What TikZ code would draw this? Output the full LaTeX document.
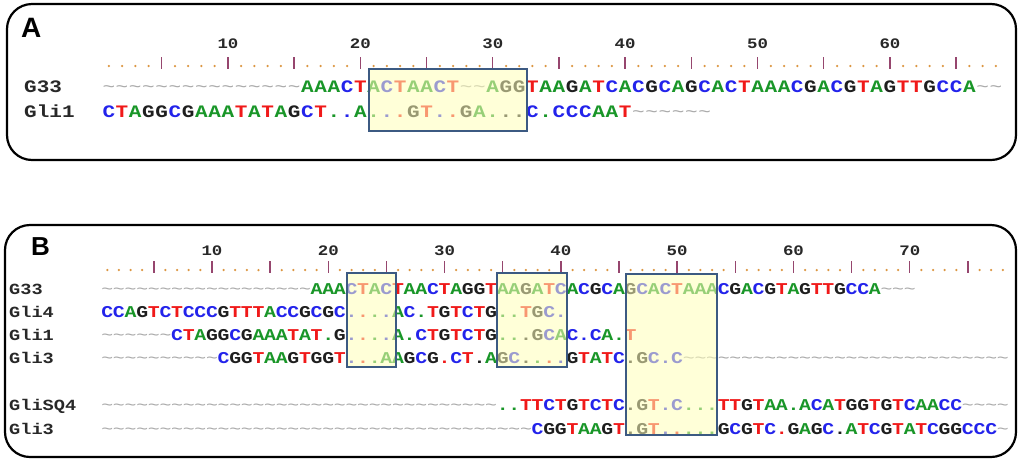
\documentclass[tikz,border=0pt]{standalone}
\usepackage{fontspec}
\newfontfamily\seqf{Liberation Mono}[FakeStretch=1.2]
\newfontfamily\panf{Liberation Sans}
\definecolor{bA}{RGB}{25,150,40}
\definecolor{bC}{RGB}{35,35,235}
\definecolor{bG}{RGB}{30,30,30}
\definecolor{bT}{RGB}{240,25,25}
\definecolor{bgap}{RGB}{170,170,170}
\definecolor{rdot}{RGB}{220,150,65}
\definecolor{rtick}{RGB}{150,70,110}
\definecolor{labcol}{RGB}{40,40,40}
\definecolor{boxline}{RGB}{60,90,130}
\definecolor{boxfill}{RGB}{255,255,185}
\tikzset{
  frame/.style={draw=black, line width=2.2pt, rounded corners=25pt},
  hibox/.style={draw=boxline, line width=1.8pt, fill=boxfill, fill opacity=0.55},
  chA/.style={inner sep=0pt, anchor=base, font=\fontsize{17.5}{17.5}\seqf\bfseries},
  chB/.style={inner sep=0pt, anchor=base, font=\fontsize{16.5}{16.5}\seqf\bfseries},
  labA/.style={inner sep=0pt, anchor=base west, text=labcol, font=\fontsize{17.5}{17.5}\seqf\bfseries},
  labB/.style={inner sep=0pt, anchor=base west, text=labcol, font=\fontsize{15.5}{15.5}\seqf\bfseries},
  num/.style={inner sep=0pt, anchor=base, text=labcol, font=\fontsize{14.5}{14.5}\seqf\bfseries},
  panel/.style={inner sep=0pt, anchor=base west, font=\fontsize{28}{28}\panf\bfseries},
  tickln/.style={draw=rtick, line width=1.4pt},
}
\newcommand\PutCh[6]{\node[#5,text=#4] (#1) at (#2,#3) {#6};}
\newcommand\GapCh{{\mdseries\textasciitilde}}
\newcommand\RulerTick[2]{\draw[tickln] (#1,#2-9) -- (#1,#2+3);}
\newcommand\RulerDot[2]{\fill[rdot] (#1,#2) circle[radius=1.25];}
\newcommand\RulerNum[4]{\node[num] (#1) at (#2,#3) {#4};}
\ExplSyntaxOn
\str_new:N \l_my_row_str
\str_new:N \l_my_ref_str
\tl_new:N \l_my_ch_tl
\tl_new:N \l_my_rc_tl
\tl_new:N \l_my_col_tl
\tl_new:N \l_my_gl_tl
\tl_new:N \l_my_x_tl
\cs_new:Npn \my_colname:n #1
  { \str_case:nnF {#1} { {A}{bA} {C}{bC} {G}{bG} {T}{bT} } {bgap} }
\cs_generate_variant:Nn \my_colname:n { V }
\NewDocumentCommand \SeqRow { m m m m m m m }
  {
    \str_set:Nx \l_my_row_str {#6}
    \str_set:Nx \l_my_ref_str {#7}
    \int_step_inline:nn { \str_count:N \l_my_row_str }
      {
        \tl_set:Nx \l_my_ch_tl { \str_item:Nn \l_my_row_str {##1} }
        \tl_set:Nx \l_my_rc_tl { \str_item:Nn \l_my_ref_str {##1} }
        \str_if_eq:VnTF \l_my_ch_tl {.}
          { \tl_set:Nx \l_my_col_tl { \my_colname:V \l_my_rc_tl } }
          { \tl_set:Nx \l_my_col_tl { \my_colname:V \l_my_ch_tl } }
        \str_if_eq:VnTF \l_my_ch_tl {-}
          { \tl_set:Nn \l_my_gl_tl { \GapCh } }
          { \tl_set_eq:NN \l_my_gl_tl \l_my_ch_tl }
        \tl_set:Nx \l_my_x_tl { \fp_eval:n { #2 + (##1 - 1) * (#3) } }
        \use:x
          {
            \exp_not:N \PutCh {#1-c##1} {\l_my_x_tl} {#4} {\l_my_col_tl} {#5}
              { \exp_not:V \l_my_gl_tl }
          }
      }
  }
\NewDocumentCommand \Ruler { m m m m m m }
  {
    \int_step_inline:nn {#5}
      {
        \tl_set:Nx \l_my_x_tl { \fp_eval:n { #2 + (##1 - 1) * (#3) } }
        \int_compare:nNnTF { \int_mod:nn {##1} {5} } = {0}
          { \use:x { \exp_not:N \RulerTick {\l_my_x_tl} {#4} } }
          { \use:x { \exp_not:N \RulerDot {\l_my_x_tl} {#4} } }
        \int_compare:nNnT { \int_mod:nn {##1} {10} } = {0}
          { \use:x { \exp_not:N \RulerNum {#1-n##1} {\l_my_x_tl} {#6} {##1} } }
      }
  }
\ExplSyntaxOff
\def\refA{---------------AAACTACTAACT--AGGTAAGATCACGCAGCACTAAACGACGTAGTTGCCA--}
\def\refB{------------------AAACTACTAACTAGGTAAGATCACGCAGCACTAAACGACGTAGTTGCCA---}
\begin{document}
\begin{tikzpicture}[x=1pt,y=-1pt]
\useasboundingbox[fill=white] (0,0) rectangle (1024,464);
% frames
\draw[frame] (7,4) rectangle (1016,160);
\draw[frame] (5,225) rectangle (1016,457);
\node[panel] (pA) at (21,37) {A};
\node[panel,font=\fontsize{26}{26}\panf\bfseries] (pB) at (31,255) {B};
% ---------- panel A ----------
\Ruler{A}{108.8}{13.24}{66}{68}{48}
\node[labA] (labA1) at (24,92) {G33};
\node[labA] (labA2) at (24,117.5) {Gli1};
\SeqRow{A1}{108.8}{13.24}{92}{chA}{\refA}{\refA}
\SeqRow{A2}{108.8}{13.24}{117.5}{chA}{CTAGGCGAAATATAGCT..A...GT..GA...C.CCCAAT------}{\refA}
\draw[hibox] (369,69) rectangle (527,131);
% ---------- panel B ----------
\Ruler{B}{107.3}{11.63}{270}{78}{255}
\node[labB] (labB1) at (9,294) {G33};
\node[labB] (labB2) at (9,317) {Gli4};
\node[labB] (labB3) at (9,340) {Gli1};
\node[labB] (labB4) at (9,363) {Gli3};
\node[labB] (labB5) at (9,410) {GliSQ4};
\node[labB] (labB6) at (9,434) {Gli3};
\SeqRow{B1}{107.3}{11.63}{294}{chB}{\refB}{\refB}
\SeqRow{B2}{107.3}{11.63}{317}{chB}{CCAGTCTCCCGTTTACCGCGC....AC.TGTCTG..TGC.}{\refB}
\SeqRow{B3}{107.3}{11.63}{340}{chB}{------CTAGGCGAAATAT.G....A.CTGTCTG...GCAC.CA.T}{\refB}
\SeqRow{B4}{107.3}{11.63}{363}{chB}{----------CGGTAAGTGGT...AAGCG.CT.AGC....GTATC.GC.C----------------------------}{\refB}
\SeqRow{B5}{107.3}{11.63}{410}{chB}{----------------------------------..TTCTGTCTC.GT.C...TTGTAA.ACATGGTGTCAACC----}{\refB}
\SeqRow{B6}{107.3}{11.63}{434}{chB}{-------------------------------------CGGTAAGT.GT.....GCGTC.GAGC.ATCGTATCGGCCC-}{\refB}
\draw[hibox] (347,273) rectangle (396,367);
\draw[hibox] (497,273) rectangle (567,367);
\draw[hibox] (626,274) rectangle (717,435);
\end{tikzpicture}
\end{document}
